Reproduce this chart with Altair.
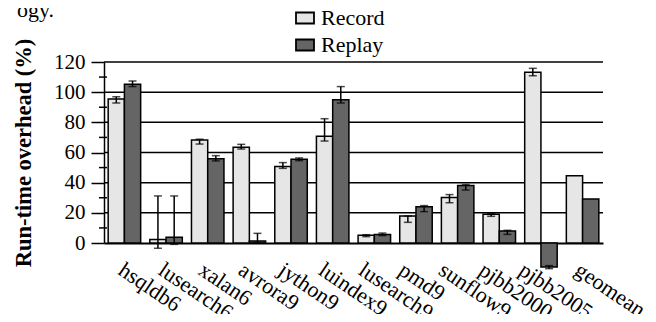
import altair as alt
import pandas as pd

categories = ["hsqldb6", "lusearch6", "xalan6", "avrora9", "jython9", "luindex9",
              "lusearch9", "pmd9", "sunflow9", "pjbb2000", "pjbb2005", "geomean"]
series = ["Record", "Replay"]
record = [95.5, 2.4, 68.3, 63.4, 50.8, 70.7, 5.1, 17.9, 30.1, 19.0, 113.2, 44.6]
record_lo = [92.8, -3.5, 65.6, 62.3, 49.5, 67.6, 4.2, 13.7, 26.7, 17.7, 110.9, None]
record_hi = [97.0, 31.2, 68.8, 65.4, 53.3, 82.4, 5.5, 17.9, 32.1, 19.5, 115.8, None]
replay = [105.2, 3.8, 55.9, 1.3, 55.5, 95.0, 5.7, 24.1, 38.2, 8.0, -15.9, 29.2]
replay_lo = [103.7, -0.9, 54.4, 0.0, 54.6, 92.8, 4.9, 20.8, 35.1, 5.7, -17.0, None]
replay_hi = [107.4, 31.2, 57.9, 6.4, 56.4, 103.7, 6.6, 24.8, 38.8, 8.4, -15.0, None]
y_ticks = [0, 20, 40, 60, 80, 100, 120]
y_grid = [20, 40, 60, 80, 100, 120]
y_minor = [10, 30, 50, 70, 90, 110]
fragment = ["ogy."]

rows = []
for i, c in enumerate(categories):
    rows.append({"category": c, "series": "Record", "value": record[i],
                 "lo": record_lo[i], "hi": record_hi[i]})
    rows.append({"category": c, "series": "Replay", "value": replay[i],
                 "lo": replay_lo[i], "hi": replay_hi[i]})
df = pd.DataFrame(rows)
err = df.dropna(subset=["lo", "hi"])

FONT = "Liberation Serif"
W, H = 499, 181

# per-label horizontal shift (label layout of the original figure)
conds = []
for i, c in enumerate(categories):
    off = -9.3 if c == "geomean" else -7.5 - 1.6 * i
    conds.append({"test": f"datum.value == '{c}'", "value": round(off, 1)})
label_offset = {"condition": conds, "value": 0}

x_axis = alt.Axis(title=None, ticks=False, tickSize=0, domain=True, domainColor="black",
                  domainWidth=2, labelAngle=34, labelAlign="left", labelBaseline="alphabetic",
                  labelFont=FONT, labelFontSize=22, labelColor="black", labelPadding=30,
                  labelOffset=label_offset, labelOverlap=False, grid=False)
y_axis = alt.Axis(values=y_ticks, labelOverlap=False,
                  title="Run-time overhead (%)", titleFont=FONT,
                  titleFontSize=22.5, titleFontWeight="bold", titleColor="black",
                  titlePadding=18, labelFont=FONT, labelFontSize=21,
                  labelColor="black", labelPadding=6, tickSize=13, tickWidth=1.5,
                  tickColor="black", domainColor="black", domainWidth=1.5,
                  grid=False)

xs = alt.Scale(paddingInner=0.22, paddingOuter=0.1)
x_enc = alt.X("category:N", sort=categories, scale=xs, axis=x_axis)
xoff = alt.XOffset("series:N", sort=series, scale=alt.Scale(paddingInner=0, paddingOuter=0))
y_scale = alt.Scale(domain=[0, 120], nice=False, zero=False)


def Y(field):
    return alt.Y(field, scale=y_scale, axis=y_axis, title="Run-time overhead (%)")


grid = alt.Chart(pd.DataFrame({"g": y_grid})).mark_rule(color="black", strokeWidth=1.5).encode(
    x=alt.value(0), x2=alt.value(W), y=Y("g:Q"),
)

bars = alt.Chart(df).mark_bar(stroke="black", strokeWidth=1.5).encode(
    x=x_enc,
    xOffset=xoff,
    y=Y("value:Q"),
    color=alt.Color("series:N", sort=series,
                    scale=alt.Scale(domain=series, range=["#e6e6e6", "#656565"]),
                    legend=alt.Legend(title=None, orient="none", legendX=190, legendY=-55,
                                      direction="vertical", symbolType="M-1,-0.61H1V0.61H-1Z",
                                      symbolSize=324, symbolStrokeColor="black",
                                      symbolStrokeWidth=1.8, labelFont=FONT,
                                      labelFontSize=22, labelColor="black", labelOffset=5,
                                      rowPadding=5, padding=0)),
)

rules = alt.Chart(err).mark_rule(color="black", strokeWidth=1.5).encode(
    x=x_enc, xOffset=xoff, y=Y("lo:Q"), y2="hi:Q",
)
caps_lo = alt.Chart(err).mark_tick(color="black", thickness=1.5, size=8).encode(
    x=x_enc, xOffset=xoff, y=Y("lo:Q"),
)
caps_hi = alt.Chart(err).mark_tick(color="black", thickness=1.5, size=8).encode(
    x=x_enc, xOffset=xoff, y=Y("hi:Q"),
)
minor = alt.Chart(pd.DataFrame({"v": y_minor})).mark_rule(color="black", strokeWidth=1.5).encode(
    x=alt.value(-5), x2=alt.value(3), y=Y("v:Q"),
)
frag = alt.Chart(pd.DataFrame({"t": fragment})).mark_text(
    font=FONT, fontSize=22, align="left", baseline="alphabetic", color="black"
).encode(x=alt.value(-87), y=alt.value(-45), text="t:N")

chart = alt.layer(grid, bars, rules, caps_lo, caps_hi, minor, frag).properties(
    width=W, height=H,
    autosize=alt.AutoSizeParams(type="none"),
    padding={"left": 96, "top": 54, "right": 45, "bottom": 71},
).configure_view(stroke=None)

chart.save("out.html", embed_options={"renderer": "svg", "actions": False})
